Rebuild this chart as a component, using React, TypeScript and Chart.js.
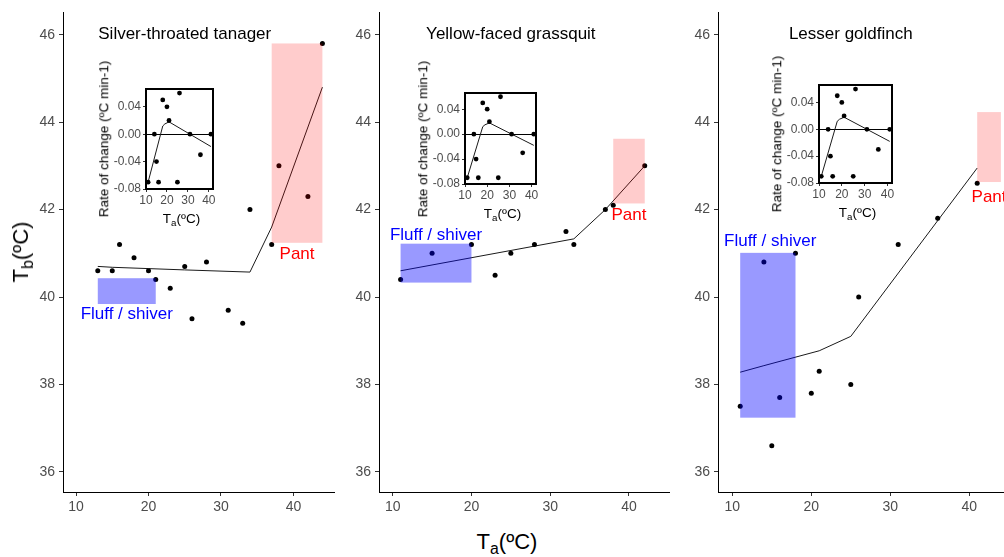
import React, { useEffect, useRef } from "react";
import { Chart, registerables } from "chart.js";

Chart.register(...registerables);

const FONT = '"Liberation Sans", Arial, Helvetica, sans-serif';

// ---------- axis ticks ----------
const TA_TICKS = [10, 20, 30, 40];
const TB_TICKS = [36, 38, 40, 42, 44, 46];
const RATE_TICKS = [-0.08, -0.04, 0, 0.04];
const RATE_ZERO = 0;

// ---------- Silver-throated tanager ----------
const tanagerTa = [13, 15, 16, 18, 20, 21, 23, 25, 26, 28, 31, 33, 34, 37, 38, 42, 44];
const tanagerTb = [40.6, 40.6, 41.2, 40.9, 40.6, 40.4, 40.2, 40.7, 39.5, 40.8, 39.7, 39.4, 42.0, 41.2, 43.0, 42.3, 45.8];
const tanagerFitTa = [13, 15, 20, 25, 34, 37, 44];
const tanagerFitTb = [40.7, 40.68, 40.65, 40.62, 40.57, 41.6, 44.8];
const tanagerFluffTa = [13, 21];
const tanagerFluffTb = [39.84, 40.43];
const tanagerPantTa = [37, 44];
const tanagerPantTb = [41.24, 45.8];

// ---------- Yellow-faced grassquit ----------
const grassquitTa = [11, 15, 20, 23, 25, 28, 32, 33, 37, 38, 42];
const grassquitTb = [40.4, 41.0, 41.2, 40.5, 41.0, 41.2, 41.5, 41.2, 42.0, 42.1, 43.0];
const grassquitFitTa = [11, 33, 37, 42];
const grassquitFitTb = [40.6, 41.33, 42.0, 43.0];
const grassquitFluffTa = [11, 20];
const grassquitFluffTb = [40.33, 41.22];
const grassquitPantTa = [38, 42];
const grassquitPantTb = [42.14, 43.62];

// ---------- Lesser goldfinch ----------
const goldfinchTa = [11, 14, 15, 16, 18, 20, 21, 25, 26, 31, 36, 41];
const goldfinchTb = [37.5, 40.8, 36.6, 37.7, 41.0, 37.8, 38.3, 38.0, 40.0, 41.2, 41.8, 42.6];
const goldfinchFitTa = [11, 14, 21, 25, 41];
const goldfinchFitTb = [38.28, 38.43, 38.77, 39.1, 42.95];
const goldfinchFluffTa = [11, 18];
const goldfinchFluffTb = [37.24, 41.01];
const goldfinchPantTa = [41, 44];
const goldfinchPantTb = [42.63, 44.23];

// ---------- inset: rate of change ----------
const rateTa = [11, 14, 15, 16, 18, 20, 21, 25, 26, 31, 36, 41];
const rate = [-0.07, 0.0, -0.04, -0.07, 0.05, 0.04, 0.02, -0.07, 0.06, 0.0, -0.03, 0.0];
const rateFitTa = [11, 18, 19, 21, 41];
const rateFit = [-0.07, 0.012, 0.015, 0.018, -0.018];

type Panel = {
  title: string;
  ta: number[];
  tb: number[];
  fitTa: number[];
  fitTb: number[];
  fluffTa: number[];
  fluffTb: number[];
  pantTa: number[];
  pantTb: number[];
  xMin: number;
  xMax: number;
  left: number;
  right: number;
  titleAt: number[];
  pantAt: number[];
  fluffAt: number[];
  inset: { l: number; r: number; t: number; b: number };
};

const panels: Panel[] = [
  {
    title: "Silver-throated tanager",
    ta: tanagerTa, tb: tanagerTb, fitTa: tanagerFitTa, fitTb: tanagerFitTb,
    fluffTa: tanagerFluffTa, fluffTb: tanagerFluffTb, pantTa: tanagerPantTa, pantTb: tanagerPantTb,
    xMin: 8.2, xMax: 45.6, left: 63, right: 334,
    titleAt: [25, 46], pantAt: [40.5, 40.98], fluffAt: [17, 39.6],
    inset: { l: 146, r: 213, t: 89, b: 189 },
  },
  {
    title: "Yellow-faced grassquit",
    ta: grassquitTa, tb: grassquitTb, fitTa: grassquitFitTa, fitTb: grassquitFitTb,
    fluffTa: grassquitFluffTa, fluffTb: grassquitFluffTb, pantTa: grassquitPantTa, pantTb: grassquitPantTb,
    xMin: 8.26, xMax: 45.08, left: 379, right: 669,
    titleAt: [25, 46], pantAt: [40, 41.87], fluffAt: [15.5, 41.4],
    inset: { l: 465, r: 536, t: 93, b: 184 },
  },
  {
    title: "Lesser goldfinch",
    ta: goldfinchTa, tb: goldfinchTb, fitTa: goldfinchFitTa, fitTb: goldfinchFitTb,
    fluffTa: goldfinchFluffTa, fluffTb: goldfinchFluffTb, pantTa: goldfinchPantTa, pantTb: goldfinchPantTb,
    xMin: 8.19, xMax: 44.9, left: 718, right: 1008,
    titleAt: [25, 46], pantAt: [42.5, 42.27], fluffAt: [14.8, 41.28],
    inset: { l: 819, r: 892, t: 85, b: 183 },
  },
];

const Y_MIN = 35.54;
const Y_MAX = 46.51;
const PLOT_TOP = 12;
const PLOT_BOTTOM = 492;
const Y_AXIS_W = 50;
const X_AXIS_H = 30;
const RIGHT_PAD = 8;

const INSET_X_MIN = 10;
const INSET_X_MAX = 42;
const INSET_Y_MIN = -0.08;
const INSET_Y_MAX = 0.066;
const INSET_Y_AXIS_W = 40;
const INSET_X_AXIS_H = 22;
const INSET_PAD = 10;

const pts = (xs: number[], ys: number[]) => xs.map((x, i) => ({ x, y: ys[i] }));

function mainConfig(p: Panel): any {
  const annotate = {
    id: "annotate",
    afterDatasetsDraw(chart: any) {
      const { ctx, scales } = chart;
      const x = scales.x;
      const y = scales.y;
      ctx.save();
      const rect = (xs: number[], ys: number[], color: string) => {
        const x0 = x.getPixelForValue(xs[0]);
        const x1 = x.getPixelForValue(xs[1]);
        const y0 = y.getPixelForValue(ys[0]);
        const y1 = y.getPixelForValue(ys[1]);
        ctx.fillStyle = color;
        ctx.fillRect(x0, y1, x1 - x0, y0 - y1);
      };
      rect(p.fluffTa, p.fluffTb, "rgba(0,0,255,0.4)");
      rect(p.pantTa, p.pantTb, "rgba(255,0,0,0.2)");
      ctx.textAlign = "center";
      ctx.textBaseline = "middle";
      const text = (s: string, at: number[], color: string) => {
        ctx.fillStyle = color;
        ctx.font = `17px ${FONT}`;
        ctx.fillText(s, x.getPixelForValue(at[0]), y.getPixelForValue(at[1]));
      };
      text(p.title, p.titleAt, "#000000");
      text("Pant", p.pantAt, "#ff0000");
      text("Fluff / shiver", p.fluffAt, "#0000ff");
      ctx.restore();
    },
  };
  return {
    type: "scatter",
    data: {
      datasets: [
        {
          data: pts(p.ta, p.tb),
          pointRadius: 2.5,
          pointBackgroundColor: "#000",
          pointBorderWidth: 0,
          showLine: false,
          clip: false,
        },
        {
          data: pts(p.fitTa, p.fitTb),
          showLine: true,
          borderColor: "#1a1a1a",
          borderWidth: 1,
          pointRadius: 0,
          fill: false,
          tension: 0,
          clip: false,
        },
      ],
    },
    options: {
      animation: false,
      responsive: false,
      maintainAspectRatio: false,
      events: [],
      layout: { padding: { top: PLOT_TOP, right: RIGHT_PAD, left: 0, bottom: 0 }, autoPadding: false },
      plugins: { legend: { display: false }, tooltip: { enabled: false }, title: { display: false } },
      scales: {
        x: {
          type: "linear",
          min: p.xMin,
          max: p.xMax,
          afterBuildTicks: (s: any) => { s.ticks = TA_TICKS.map((v) => ({ value: v })); },
          afterFit: (s: any) => { s.height = X_AXIS_H; },
          grid: { display: true, drawOnChartArea: false, drawTicks: true, tickLength: 4, tickColor: "#333333", tickWidth: 1 },
          border: { display: true, color: "#000000", width: 1 },
          ticks: { color: "#4d4d4d", font: { family: FONT, size: 14 }, padding: 3, maxRotation: 0, autoSkip: false, callback: (v: any) => String(v) },
        },
        y: {
          type: "linear",
          min: Y_MIN,
          max: Y_MAX,
          afterBuildTicks: (s: any) => { s.ticks = TB_TICKS.map((v) => ({ value: v })); },
          afterFit: (s: any) => { s.width = Y_AXIS_W; },
          grid: { display: true, drawOnChartArea: false, drawTicks: true, tickLength: 4, tickColor: "#333333", tickWidth: 1 },
          border: { display: true, color: "#000000", width: 1 },
          ticks: { color: "#4d4d4d", font: { family: FONT, size: 14 }, padding: 4, autoSkip: false, callback: (v: any) => String(v) },
        },
      },
    },
    plugins: [annotate],
  };
}

function insetConfig(): any {
  const frame = {
    id: "frame",
    beforeDatasetsDraw(chart: any) {
      const { ctx, chartArea, scales } = chart;
      const yz = scales.y.getPixelForValue(RATE_ZERO);
      ctx.save();
      ctx.strokeStyle = "#000";
      ctx.lineWidth = 1;
      ctx.beginPath();
      ctx.moveTo(chartArea.left, Math.round(yz) + 0.5);
      ctx.lineTo(chartArea.right, Math.round(yz) + 0.5);
      ctx.stroke();
      ctx.restore();
    },
    afterDraw(chart: any) {
      const { ctx, chartArea } = chart;
      ctx.save();
      ctx.strokeStyle = "#000";
      ctx.lineWidth = 2;
      ctx.strokeRect(chartArea.left, chartArea.top, chartArea.right - chartArea.left, chartArea.bottom - chartArea.top);
      ctx.restore();
    },
  };
  return {
    type: "scatter",
    data: {
      datasets: [
        {
          data: pts(rateTa, rate),
          pointRadius: 2.4,
          pointBackgroundColor: "#000",
          pointBorderWidth: 0,
          showLine: false,
          clip: false,
        },
        {
          data: pts(rateFitTa, rateFit),
          showLine: true,
          borderColor: "#1a1a1a",
          borderWidth: 1,
          pointRadius: 0,
          fill: false,
          tension: 0,
          clip: false,
        },
      ],
    },
    options: {
      animation: false,
      responsive: false,
      maintainAspectRatio: false,
      events: [],
      layout: { padding: { top: INSET_PAD, right: INSET_PAD, left: 0, bottom: 0 }, autoPadding: false },
      plugins: { legend: { display: false }, tooltip: { enabled: false }, title: { display: false } },
      scales: {
        x: {
          type: "linear",
          min: INSET_X_MIN,
          max: INSET_X_MAX,
          afterBuildTicks: (s: any) => { s.ticks = TA_TICKS.map((v) => ({ value: v })); },
          afterFit: (s: any) => { s.height = INSET_X_AXIS_H; },
          grid: { display: true, drawOnChartArea: false, drawTicks: true, tickLength: 3, tickColor: "#333333", tickWidth: 1 },
          border: { display: false },
          ticks: { color: "#4d4d4d", font: { family: FONT, size: 12 }, padding: 1, maxRotation: 0, autoSkip: false, callback: (v: any) => String(v) },
        },
        y: {
          type: "linear",
          min: INSET_Y_MIN,
          max: INSET_Y_MAX,
          afterBuildTicks: (s: any) => { s.ticks = RATE_TICKS.map((v) => ({ value: v })); },
          afterFit: (s: any) => { s.width = INSET_Y_AXIS_W; },
          grid: { display: true, drawOnChartArea: false, drawTicks: true, tickLength: 3, tickColor: "#333333", tickWidth: 1 },
          border: { display: false },
          ticks: { color: "#4d4d4d", font: { family: FONT, size: 12 }, padding: 2, autoSkip: false, callback: (v: any) => Number(v).toFixed(2) },
        },
      },
    },
    plugins: [frame],
  };
}

function ChartCanvas(props: { left: number; top: number; width: number; height: number; make: () => any }) {
  const ref = useRef<HTMLCanvasElement>(null);
  useEffect(() => {
    const chart = new Chart(ref.current as HTMLCanvasElement, props.make());
    return () => chart.destroy();
  }, []);
  return (
    <canvas
      ref={ref}
      width={props.width}
      height={props.height}
      style={{ position: "absolute", left: props.left, top: props.top, width: props.width, height: props.height }}
    />
  );
}

const subStyle: React.CSSProperties = { fontSize: "0.72em", verticalAlign: "-0.3em", lineHeight: 0 };

function MainPanel({ p }: { p: Panel }) {
  const left = p.left - Y_AXIS_W;
  const width = Y_AXIS_W + (p.right - p.left) + RIGHT_PAD;
  const height = PLOT_BOTTOM + X_AXIS_H;
  return <ChartCanvas left={left} top={0} width={width} height={height} make={() => mainConfig(p)} />;
}

function Inset({ p }: { p: Panel }) {
  const b = p.inset;
  const left = b.l - INSET_Y_AXIS_W;
  const top = b.t - INSET_PAD;
  const width = INSET_Y_AXIS_W + (b.r - b.l) + INSET_PAD;
  const height = INSET_PAD + (b.b - b.t) + INSET_X_AXIS_H;
  const cx = (b.l + b.r) / 2;
  const cy = (b.t + b.b) / 2;
  return (
    <>
      <ChartCanvas left={left} top={top} width={width} height={height} make={() => insetConfig()} />
      <div
        style={{
          position: "absolute", left: b.l - 42, top: cy, transform: "translate(-50%, -50%) rotate(-90deg)",
          whiteSpace: "nowrap", fontFamily: FONT, fontSize: 13.5, lineHeight: 1, color: "#000",
        }}
      >
        Rate of change (ºC min-1)
      </div>
      <div
        style={{
          position: "absolute", left: cx + 2, top: b.b + 23, transform: "translateX(-50%)",
          whiteSpace: "nowrap", fontFamily: FONT, fontSize: 13.5, lineHeight: 1, color: "#000",
        }}
      >
        T<sub style={subStyle}>a</sub>(ºC)
      </div>
    </>
  );
}

export default function App() {
  return (
    <div
      style={{
        position: "absolute", left: 0, top: 0, width: 1004, height: 557, overflow: "hidden", background: "#ffffff",
      }}
    >
      {panels.map((p, i) => <MainPanel key={"m" + i} p={p} />)}
      {panels.map((p, i) => <Inset key={"i" + i} p={p} />)}
      <div
        style={{
          position: "absolute", left: 21, top: 252, transform: "translate(-50%, -50%) rotate(-90deg)",
          whiteSpace: "nowrap", fontFamily: FONT, fontSize: 22, lineHeight: 1, color: "#000",
        }}
      >
        T<sub style={subStyle}>b</sub>(ºC)
      </div>
      <div
        style={{
          position: "absolute", left: 507, top: 531, transform: "translateX(-50%)",
          whiteSpace: "nowrap", fontFamily: FONT, fontSize: 22, lineHeight: 1, color: "#000",
        }}
      >
        T<sub style={subStyle}>a</sub>(ºC)
      </div>
    </div>
  );
}
